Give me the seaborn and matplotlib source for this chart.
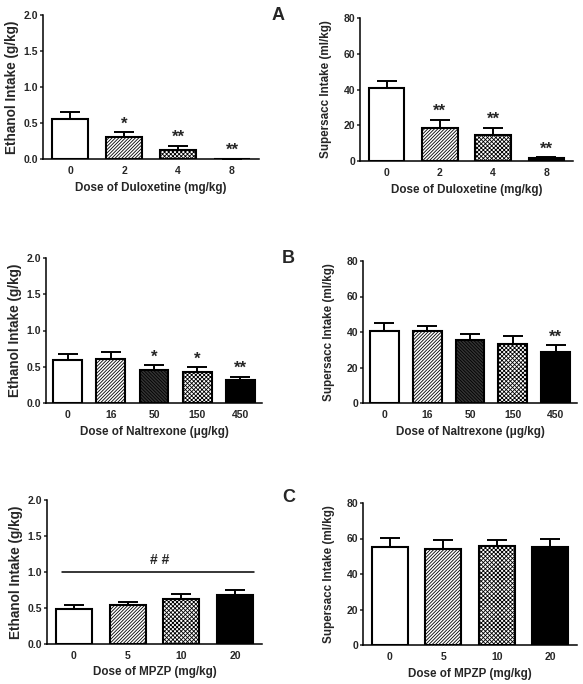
import matplotlib
matplotlib.use("Agg")
import matplotlib.pyplot as plt
import seaborn as sns
import numpy as np

# ---------------- data ----------------
dul_doses = ['0', '2', '4', '8']
dul_eth_mean = [0.55, 0.30, 0.12, 0.0]
dul_eth_sem = [0.10, 0.07, 0.06, 0.0]
dul_eth_sig = ['', '*', '**', '**']
dul_suc_mean = [41.0, 18.5, 14.5, 1.5]
dul_suc_sem = [4.0, 4.5, 4.0, 0.5]
dul_suc_sig = ['', '**', '**', '**']

nal_doses = ['0', '16', '50', '150', '450']
nal_eth_mean = [0.59, 0.61, 0.46, 0.43, 0.32]
nal_eth_sem = [0.08, 0.09, 0.06, 0.06, 0.04]
nal_eth_sig = ['', '', '*', '*', '**']
nal_suc_mean = [40.5, 40.5, 35.5, 33.5, 29.0]
nal_suc_sem = [4.5, 3.0, 3.5, 4.0, 3.5]
nal_suc_sig = ['', '', '', '', '**']

mpzp_doses = ['0', '5', '10', '20']
mpzp_eth_mean = [0.49, 0.54, 0.63, 0.68]
mpzp_eth_sem = [0.05, 0.05, 0.07, 0.07]
mpzp_eth_sig = ['', '', '', '']
mpzp_suc_mean = [55.0, 54.0, 55.5, 55.0]
mpzp_suc_sem = [5.5, 5.0, 3.5, 5.0]
mpzp_suc_sig = ['', '', '', '']

# ---------------- style ----------------
sns.set_style('ticks')
plt.rcParams['font.family'] = ['Liberation Sans', 'DejaVu Sans']
plt.rcParams['font.weight'] = 'bold'
plt.rcParams['axes.labelweight'] = 'bold'
plt.rcParams['hatch.linewidth'] = 0.6

STYLES = {
    'white': dict(facecolor='white', hatch=None),
    'light': dict(facecolor='white', hatch='//////////'),
    'dark': dict(facecolor='#333333', hatch='\\\\\\\\\\\\\\\\\\\\'),
    'check': dict(facecolor='white', hatch='xxxxxxxx'),
    'black': dict(facecolor='black', hatch=None),
}
dul_styles = ['white', 'light', 'check', 'black']
nal_styles = ['white', 'light', 'dark', 'check', 'black']
mpzp_styles = ['white', 'light', 'check', 'black']

W, H = 583, 684
fig = plt.figure(figsize=(W / 100, H / 100), dpi=100)


def add_ax(x0, x1, y0, y1):
    return fig.add_axes([x0 / W, (H - y1) / H, (x1 - x0) / W, (y1 - y0) / H])


def panel(ax, doses, mean, sem, sig, styles, ymax, yticks, yfmt, ylabel, xlabel,
          ylab_size, ylab_pad):
    sns.barplot(x=doses, y=mean, ax=ax, color='white', edgecolor='black',
                linewidth=1.5, width=0.67, errorbar=None, saturation=1)
    for p, st in zip(ax.patches, styles):
        s = STYLES[st]
        p.set_facecolor(s['facecolor'])
        if s['hatch']:
            p.set_hatch(s['hatch'])
        p.set_edgecolor('black')
        p.set_zorder(2)
    xs = np.arange(len(doses))
    ax.errorbar(xs, mean, yerr=[np.zeros(len(sem)), sem], fmt='none',
                ecolor='black', elinewidth=1.4, capsize=7, capthick=1.4, zorder=1)
    for x, m, e, s in zip(xs, mean, sem, sig):
        if s:
            ax.annotate(s, (x, m + e), xytext=(0, 6), textcoords='offset points',
                        ha='center', va='center', fontsize=12, fontweight='bold')
    ax.set_xlim(-0.5, len(doses) - 0.5)
    ax.set_ylim(0, ymax)
    ax.set_yticks(yticks)
    ax.set_yticklabels([yfmt.format(t) for t in yticks])
    sns.despine(ax=ax)
    for sp in ['left', 'bottom']:
        ax.spines[sp].set_linewidth(1.1)
        ax.spines[sp].set_color('black')
    ax.tick_params(axis='x', length=0, pad=5, labelsize=7.5)
    ax.tick_params(axis='y', length=2.5, width=1.1, pad=1, labelsize=7.5)
    for lab in ax.get_xticklabels() + ax.get_yticklabels():
        lab.set_fontweight('bold')
    ax.set_ylabel(ylabel, fontsize=ylab_size, fontweight='bold', labelpad=ylab_pad)
    ax.set_xlabel(xlabel, fontsize=8.4, fontweight='bold', labelpad=4)
    ax.set_facecolor('white')
    ax.grid(False)


eth_ticks = [0.0, 0.5, 1.0, 1.5, 2.0]
suc_ticks = [0, 20, 40, 60, 80]

ax1 = add_ax(43, 259, 15, 159)
panel(ax1, dul_doses, dul_eth_mean, dul_eth_sem, dul_eth_sig, dul_styles, 2.0, eth_ticks, '{:.1f}',
      'Ethanol Intake (g/kg)', 'Dose of Duloxetine (mg/kg)', 9.8, 3)
ax2 = add_ax(360, 573, 18, 161)
panel(ax2, dul_doses, dul_suc_mean, dul_suc_sem, dul_suc_sig, dul_styles, 80, suc_ticks, '{:d}',
      'Supersacc Intake (ml/kg)', 'Dose of Duloxetine (mg/kg)', 8.4, 8)
ax3 = add_ax(46, 262, 258, 403)
panel(ax3, nal_doses, nal_eth_mean, nal_eth_sem, nal_eth_sig, nal_styles, 2.0, eth_ticks, '{:.1f}',
      'Ethanol Intake (g/kg)', 'Dose of Naltrexone (μg/kg)', 9.8, 3)
ax4 = add_ax(363, 577, 261, 403)
panel(ax4, nal_doses, nal_suc_mean, nal_suc_sem, nal_suc_sig, nal_styles, 80, suc_ticks, '{:d}',
      'Supersacc Intake (ml/kg)', 'Dose of Naltrexone (μg/kg)', 8.4, 8)
ax5 = add_ax(47, 262, 500, 644)
panel(ax5, mpzp_doses, mpzp_eth_mean, mpzp_eth_sem, mpzp_eth_sig, mpzp_styles, 2.0, eth_ticks, '{:.1f}',
      'Ethanol Intake (g/kg)', 'Dose of MPZP (mg/kg)', 9.8, 3)
ax5.plot([-0.22, 3.35], [1.0, 1.0], color='black', lw=1.1)
ax5.text(1.6, 1.17, '# #', ha='center', va='center', fontsize=10, fontweight='bold')
ax6 = add_ax(363, 577, 503, 645)
panel(ax6, mpzp_doses, mpzp_suc_mean, mpzp_suc_sem, mpzp_suc_sig, mpzp_styles, 80, suc_ticks, '{:d}',
      'Supersacc Intake (ml/kg)', 'Dose of MPZP (mg/kg)', 8.4, 8)

for lab, (px, py) in zip(['A', 'B', 'C'], [(278, 15), (288, 258), (289, 497)]):
    fig.text(px / W, 1 - py / H, lab, ha='center', va='center', fontsize=13, fontweight='bold')

fig.savefig('out.png', dpi=100, facecolor='white')
